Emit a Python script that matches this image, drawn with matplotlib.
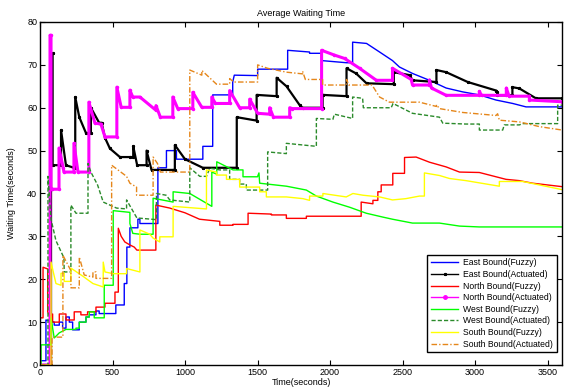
import matplotlib
matplotlib.use("Agg")
import matplotlib.pyplot as plt

plt.rcParams['font.family'] = ['Liberation Sans', 'DejaVu Sans']

# ---------------- data (time in s, waiting time in s) ----------------
east_fuzzy_t = [0, 41, 41, 98, 98, 133, 133, 156, 156, 179, 179, 202, 202, 225, 225, 271, 271, 317, 317, 340, 340, 386, 386, 408, 408, 523, 523, 581, 581, 599, 599, 620, 620, 675, 675, 689, 689, 813, 813, 872, 872, 941, 941, 1123, 1123, 1191, 1191, 1329, 1329, 1340, 1501, 1501, 1708, 1708, 1859, 1859, 1942, 1942, 2114, 2156, 2156, 2252, 2342, 2431, 2479, 2569, 2686, 2801, 2915, 3030, 3145, 3260, 3352, 3600]
east_fuzzy_v = [1, 1, 10.5, 10, 9.3, 9.3, 10, 10, 8.6, 8.6, 11.2, 11.2, 10, 10, 8.2, 8.2, 10, 10, 11.2, 11.2, 11.7, 11.7, 12.6, 12.6, 12, 12, 14, 14, 19, 19, 27.5, 27.5, 32, 32, 34, 34, 33, 33, 46, 46, 50, 50, 48, 48, 51, 51, 63, 63, 66, 67.6, 67.5, 69, 69, 73.4, 73, 72.7, 72.7, 71, 70.5, 70.5, 75.3, 75, 73, 71, 69.5, 68, 66.4, 64.6, 63.7, 63, 61.8, 61, 60.2, 60.2]

east_act_t = [0, 76, 76, 87, 87, 145, 145, 179, 234, 243, 243, 271, 317, 351, 351, 408, 425, 448, 482, 551, 620, 643, 643, 670, 735, 735, 769, 918, 930, 930, 1000, 1123, 1357, 1357, 1494, 1494, 1632, 1632, 1700, 1791, 1811, 1949, 1949, 2114, 2114, 2180, 2252, 2440, 2440, 2550, 2569, 2734, 2734, 2801, 2950, 3147, 3154, 3154, 3258, 3258, 3306, 3420, 3600]
east_act_v = [0, 0, 72.7, 72.7, 46.6, 46.6, 54.8, 46.6, 46, 46, 62.5, 57.8, 54.1, 54.1, 60, 56.5, 56.5, 53, 50.5, 48.5, 48.5, 48.5, 51, 46.6, 46.6, 50, 45.5, 45.5, 45.5, 51.3, 48, 46, 46, 57.8, 57, 63, 62.7, 67, 65, 60.6, 60, 60, 63, 62.7, 69.2, 68, 65.7, 65.5, 68.3, 67.6, 66.4, 66, 68.8, 68.3, 66, 64, 63.7, 62.9, 62.9, 64.8, 64.5, 62.2, 62.2]

north_fuzzy_t = [0, 21, 21, 53, 53, 76, 76, 87, 87, 133, 133, 179, 179, 236, 236, 282, 282, 328, 328, 386, 386, 448, 448, 517, 517, 540, 540, 560, 585, 620, 650, 668, 799, 799, 895, 1000, 1100, 1240, 1240, 1331, 1331, 1435, 1435, 1596, 1596, 1699, 1699, 1837, 1837, 2215, 2215, 2296, 2296, 2330, 2330, 2353, 2353, 2433, 2433, 2514, 2514, 2594, 2686, 2801, 2893, 3030, 3122, 3214, 3306, 3398, 3600]
north_fuzzy_v = [11, 11, 22.8, 22.4, 12.4, 10.8, 10.8, 11.9, 10, 10, 11.9, 11.9, 10.5, 10.5, 12.4, 12.4, 11.7, 11.7, 12.4, 12.4, 13.5, 13.5, 14.4, 14.4, 17, 17, 31.9, 30, 28.7, 28, 27.5, 26.8, 26.8, 37.3, 36.6, 35.5, 34, 33.5, 32.6, 32.6, 32.8, 32.8, 35.4, 35.2, 35, 35, 34.2, 34.2, 34.7, 34.7, 38, 37.6, 38.4, 38.4, 40.4, 40.4, 42, 42, 44.7, 44.7, 48.4, 48.5, 47.3, 46.2, 45, 44.9, 44.1, 43.3, 43, 42.4, 41.6]

north_act_t = [0, 69, 69, 76, 76, 83, 83, 131, 131, 160, 165, 234, 234, 262, 337, 337, 379, 420, 448, 530, 530, 560, 620, 620, 640, 689, 800, 800, 830, 916, 916, 950, 1054, 1054, 1116, 1185, 1185, 1210, 1308, 1308, 1377, 1446, 1446, 1501, 1584, 1584, 1610, 1722, 1722, 1740, 1942, 1942, 2029, 2100, 2204, 2320, 2431, 2431, 2560, 2569, 2686, 2686, 2700, 2801, 3030, 3030, 3045, 3216, 3216, 3235, 3375, 3375, 3600]
north_act_v = [0, 0, 76.9, 76.9, 41, 41, 41, 41, 50.6, 46, 45, 45, 51.7, 45, 45, 61.3, 56.4, 56.2, 53.2, 53.2, 64.8, 60.1, 60.1, 64.1, 62.5, 62.5, 59.4, 60.5, 57.8, 57.8, 62.5, 59.8, 59.8, 63.6, 60.1, 60.1, 62.5, 61, 61, 64, 60, 60, 62, 58.7, 58.5, 60, 57.8, 57.8, 60, 59.8, 59.8, 73.4, 72.3, 71.5, 69.2, 66.4, 66.4, 69.2, 66.6, 65.3, 65.3, 66.5, 64.6, 62.9, 62.9, 63.8, 62.9, 62.9, 64.6, 62.7, 62.7, 61.8, 61.4]

west_fuzzy_t = [0, 7, 7, 76, 76, 98, 98, 133, 133, 179, 179, 248, 248, 271, 271, 317, 317, 340, 340, 374, 374, 443, 443, 505, 505, 620, 620, 640, 689, 780, 780, 918, 918, 1033, 1185, 1185, 1219, 1219, 1331, 1400, 1400, 1500, 1510, 1515, 1700, 1837, 1906, 2020, 2135, 2250, 2364, 2431, 2569, 2755, 2893, 3030, 3600]
west_fuzzy_v = [0, 0, 4.7, 4.7, 11, 6.3, 6.3, 7.5, 7.5, 8.3, 8.3, 8.3, 8.6, 8.6, 10, 10, 11.2, 11.2, 12.4, 12.4, 11, 11, 18.6, 18.6, 36, 35.6, 33, 30.7, 30.5, 30.5, 38.9, 38, 40.4, 40, 37, 45, 44.5, 47.4, 45.5, 45.5, 43.9, 43.9, 44.8, 42.4, 41.7, 40.8, 39.4, 38, 36.8, 35.4, 34.5, 34, 33.1, 33.1, 32.4, 32.2, 32.2]

west_act_t = [0, 55, 55, 76, 110, 165, 167, 213, 213, 248, 331, 331, 351, 397, 436, 528, 597, 597, 668, 803, 803, 870, 895, 1033, 1033, 1102, 1148, 1171, 1240, 1308, 1308, 1377, 1377, 1423, 1423, 1570, 1570, 1699, 1699, 1906, 1906, 2020, 2030, 2156, 2156, 2225, 2230, 2422, 2435, 2569, 2755, 2778, 2938, 3030, 3030, 3191, 3202, 3306, 3329, 3570, 3570, 3600]
west_act_v = [0, 0, 44, 34, 29, 25, 21.7, 21.7, 37.3, 35.4, 35.4, 47, 45, 42, 38, 36.6, 36.4, 38.5, 34.3, 33.9, 40, 39.6, 38.5, 38, 46, 44, 44, 45.9, 45.5, 45.5, 43.3, 43.3, 42.2, 42.2, 40.8, 40.8, 49.7, 49.3, 51.7, 51, 57.5, 57.3, 58.5, 57.5, 62.5, 62.2, 60, 60, 61, 58.7, 57.8, 56.4, 56.2, 56.2, 54.8, 54.8, 56, 56, 56.3, 56.3, 60.6, 60.6]

south_fuzzy_t = [0, 76, 76, 110, 145, 145, 167, 167, 213, 213, 296, 365, 436, 436, 448, 505, 597, 597, 689, 689, 757, 780, 826, 826, 918, 918, 1148, 1148, 1217, 1217, 1286, 1286, 1377, 1377, 1515, 1515, 1561, 1561, 1699, 1814, 1859, 1859, 1951, 1951, 2112, 2158, 2227, 2342, 2431, 2523, 2617, 2651, 2651, 2755, 2824, 2938, 3168, 3168, 3329, 3444, 3600]
south_fuzzy_v = [0, 0, 24, 19, 18.6, 21.4, 21.4, 19.5, 19.5, 22.6, 20.7, 19, 18.2, 24, 21.7, 21.3, 21.3, 22.5, 21.7, 31.5, 30.5, 29.6, 28.7, 29.9, 29.9, 37, 36.4, 45.5, 45, 44.3, 44.3, 43.3, 43.3, 41.5, 41.5, 40.4, 40.4, 39.2, 39.2, 38.8, 38.4, 39.4, 39.4, 40, 39.2, 40, 39.6, 39.2, 38.5, 38.8, 39.4, 39.4, 44.8, 44.2, 43.5, 43, 41.7, 42.8, 42.8, 42, 40.9]

south_act_t = [0, 83, 83, 158, 158, 213, 213, 271, 271, 305, 365, 365, 386, 386, 494, 494, 597, 620, 666, 666, 780, 780, 810, 830, 1033, 1033, 1116, 1116, 1217, 1308, 1308, 1336, 1494, 1501, 1501, 1570, 1700, 1811, 1811, 1830, 1949, 1949, 2114, 2114, 2130, 2290, 2342, 2410, 2617, 2734, 2734, 2755, 2915, 3145, 3156, 3168, 3306, 3444, 3600]
south_act_v = [0, 0, 6.5, 6.5, 25.6, 22, 18, 18, 25.2, 21, 20.5, 21.7, 21.7, 20.2, 20.2, 46.6, 44, 42.4, 41.5, 39.6, 39.6, 48.5, 47, 45, 45, 68.8, 67.6, 68.7, 65.5, 65.5, 66.8, 66, 66, 66, 70, 69.2, 68.3, 67.9, 68.5, 66.6, 66.6, 65.3, 65.3, 66.6, 65.3, 65.3, 62.5, 61.3, 61.3, 60.3, 60.7, 59.8, 58.9, 58.2, 58.6, 57.1, 56.7, 55.6, 54.8]

labels = ['East Bound(Fuzzy)', 'East Bound(Actuated)', 'North Bound(Fuzzy)', 'North Bound(Actuated)',
          'West Bound(Fuzzy)', 'West Bound(Actuated)', 'South Bound(Fuzzy)', 'South Bound(Actuated)']
x_ticks = [0, 500, 1000, 1500, 2000, 2500, 3000, 3500]
y_ticks = [0, 10, 20, 30, 40, 50, 60, 70, 80]

# ---------------- figure ----------------
fig = plt.figure(figsize=(5.64, 3.88), dpi=100)
ax = fig.add_axes([40 / 564, 23 / 388, 522 / 564, 343 / 388])

series = [
    (east_fuzzy_t, east_fuzzy_v, dict(color='#0000FF', lw=1.0)),
    (east_act_t, east_act_v, dict(color='black', lw=1.6, marker='*', ms=2)),
    (north_fuzzy_t, north_fuzzy_v, dict(color='#FF0000', lw=1.0)),
    (north_act_t, north_act_v, dict(color='#FF00FF', lw=2.2, marker='.', ms=3)),
    (west_fuzzy_t, west_fuzzy_v, dict(color='#00FF00', lw=1.0)),
    (west_act_t, west_act_v, dict(color='#2A8A2A', lw=1.0, ls=(0, (3, 1.5)))),
    (south_fuzzy_t, south_fuzzy_v, dict(color='#FFFF00', lw=1.0)),
    (south_act_t, south_act_v, dict(color='#E5861A', lw=1.0, ls=(0, (4, 1.5, 1, 1.5)))),
]
for (t, v, st), lab in zip(series, labels):
    ax.plot(t, v, label=lab, **st)

ax.set_xlim(0, 3600)
ax.set_ylim(0, 80)
ax.set_xticks(x_ticks)
ax.set_yticks(y_ticks)
ax.tick_params(direction='in', length=3.5, width=0.8, labelsize=6.5, top=True, right=True, pad=2)
for s in ax.spines.values():
    s.set_linewidth(1.0)

ax.set_title('Average Waiting Time', fontsize=6.5, pad=4)
ax.set_xlabel('Time(seconds)', fontsize=6.5, labelpad=1)
ax.set_ylabel('Waiting Time(seconds)', fontsize=6.5, labelpad=8)

leg = ax.legend(loc='lower right', bbox_to_anchor=(0.99, 0.038), borderaxespad=0,
                fontsize=6.2, fancybox=False, framealpha=1, edgecolor='black',
                handlelength=3.2, labelspacing=0.3, borderpad=0.4, handletextpad=0.6)
leg.get_frame().set_linewidth(1.0)
for h in leg.legend_handles:
    h.set_linewidth(1.0)
leg.legend_handles[3].set_markersize(5)

fig.savefig('out.png', dpi=100)
